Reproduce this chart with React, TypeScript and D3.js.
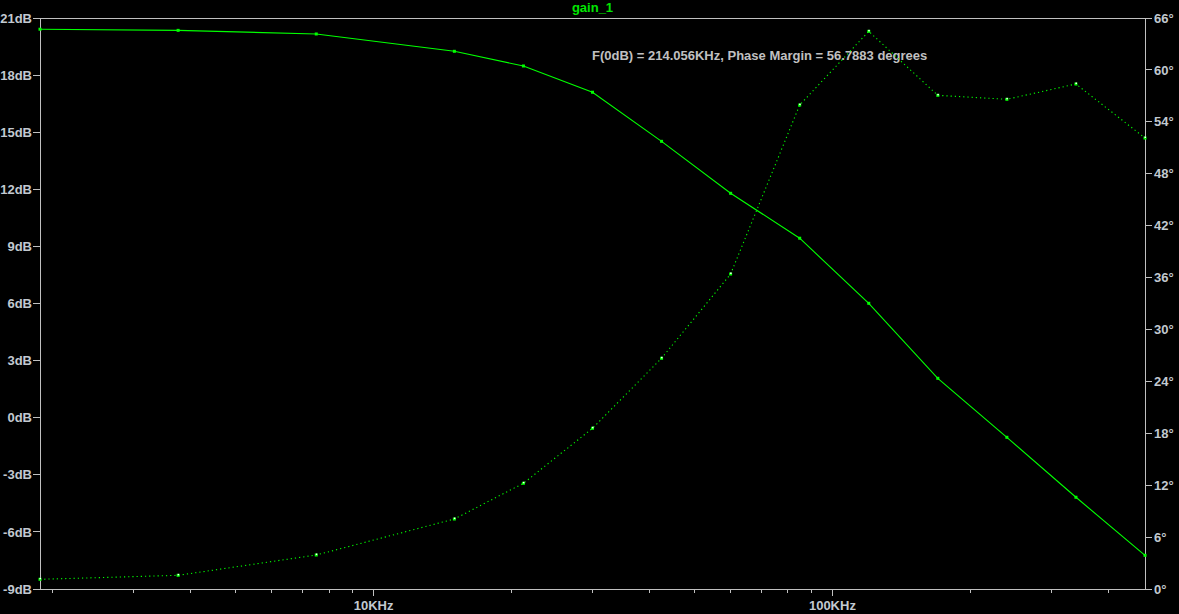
import React from "react";
import * as d3 from "d3";

const frequencies = [1875, 3750, 7500, 15000, 21213, 30000, 42426, 60000, 84853, 120000, 169706, 240000, 339411, 480000];
const gainDb = [20.41, 20.35, 20.16, 19.25, 18.48, 17.1, 14.52, 11.79, 9.43, 6.01, 2.07, -1.03, -4.18, -7.23];
const phaseDeg = [1.12, 1.58, 3.93, 8.09, 12.22, 18.58, 26.67, 36.41, 55.94, 64.46, 57.06, 56.6, 58.37, 52.13];
const gainTicks = [-9, -6, -3, 0, 3, 6, 9, 12, 15, 18, 21];
const phaseTicks = [0, 6, 12, 18, 24, 30, 36, 42, 48, 54, 60, 66];
const minorFreqTicks = [2000, 3000, 4000, 5000, 6000, 7000, 8000, 9000, 20000, 30000, 40000, 50000, 60000, 70000, 80000, 90000, 200000, 300000, 400000];
const majorFreqTicks = [10000, 100000];
const majorFreqLabels = ["10KHz", "100KHz"];
const title = "gain_1";
const annotation = "F(0dB) = 214.056KHz, Phase Margin = 56.7883 degrees";

const W = 1179;
const H = 614;
const L = 40;
const R = 1145;
const T = 18;
const B = 589;

export default function App() {
  const x = d3.scaleLog().domain([1875, 480000]).range([L, R]);
  const yG = d3.scaleLinear().domain([-9, 21]).range([B, T]);
  const yP = d3.scaleLinear().domain([0, 66]).range([B, T]);

  const gainLine = d3.line<number>().x((_, i) => x(frequencies[i])).y((d) => yG(d))(gainDb) || "";
  const phaseLine = d3.line<number>().x((_, i) => x(frequencies[i])).y((d) => yP(d))(phaseDeg) || "";

  const axisColor = "#c0c0c0";
  const labelColor = "#c2c9d0";
  const font = "'Liberation Sans', Arial, sans-serif";

  return (
    <svg width={W} height={H} style={{ position: "absolute", left: 0, top: 0, display: "block" }}>
      <rect x={0} y={0} width={W} height={H} fill="#000" />
      <g stroke={axisColor} strokeWidth={1} shapeRendering="crispEdges" fill="none">
        <line x1={L} y1={T} x2={R} y2={T} />
        <line x1={L} y1={B} x2={R} y2={B} />
        <line x1={L} y1={T} x2={L} y2={B} />
        <line x1={R} y1={T} x2={R} y2={B} />
        {gainTicks.map((t) => (
          <line key={"gt" + t} x1={L - 7} x2={L} y1={yG(t)} y2={yG(t)} />
        ))}
        {phaseTicks.map((t) => (
          <line key={"pt" + t} x1={R} x2={R + 7} y1={yP(t)} y2={yP(t)} />
        ))}
        {minorFreqTicks.map((t) => (
          <line key={"mf" + t} x1={x(t)} x2={x(t)} y1={B} y2={B + 4} />
        ))}
        {majorFreqTicks.map((t) => (
          <line key={"Mf" + t} x1={x(t)} x2={x(t)} y1={B} y2={B + 7} />
        ))}
      </g>
      <g fontFamily={font} fontWeight="bold" fontSize={13} fill={labelColor}>
        {gainTicks.map((t) => (
          <text key={"gl" + t} x={L - 8} y={yG(t)} dy="0.36em" textAnchor="end">
            {t + "dB"}
          </text>
        ))}
        {phaseTicks.map((t) => (
          <text key={"pl" + t} x={R + 9} y={yP(t)} dy="0.36em" textAnchor="start">
            {t + "°"}
          </text>
        ))}
        {majorFreqTicks.map((t, i) => (
          <text key={"fl" + t} x={x(t)} y={610} textAnchor="middle">
            {majorFreqLabels[i]}
          </text>
        ))}
      </g>
      <text x={(L + R) / 2} y={12} textAnchor="middle" fontFamily={font} fontWeight="bold" fontSize={13} fill="#00e600">
        {title}
      </text>
      <text x={592} y={60} fontFamily={font} fontWeight="bold" fontSize={13} fill="#c0c0c0">
        {annotation}
      </text>
      <path d={gainLine} fill="none" stroke="#00ff00" strokeWidth={1.1} />
      {gainDb.map((d, i) => (
        <rect key={"gm" + i} x={x(frequencies[i]) - 1.5} y={yG(d) - 1.5} width={3} height={3} fill="#00ff00" />
      ))}
      <path d={phaseLine} fill="none" stroke="#00ff00" strokeWidth={1.1} strokeDasharray="1.2 3" />
      {phaseDeg.map((d, i) => (
        <g key={"pm" + i}>
          <rect x={x(frequencies[i]) - 1.5} y={yP(d) - 1.5} width={3} height={3} fill="#00ff00" />
          <rect x={x(frequencies[i]) - 0.5} y={yP(d) - 1.5} width={1.5} height={1.5} fill="#ffffff" />
        </g>
      ))}
    </svg>
  );
}
